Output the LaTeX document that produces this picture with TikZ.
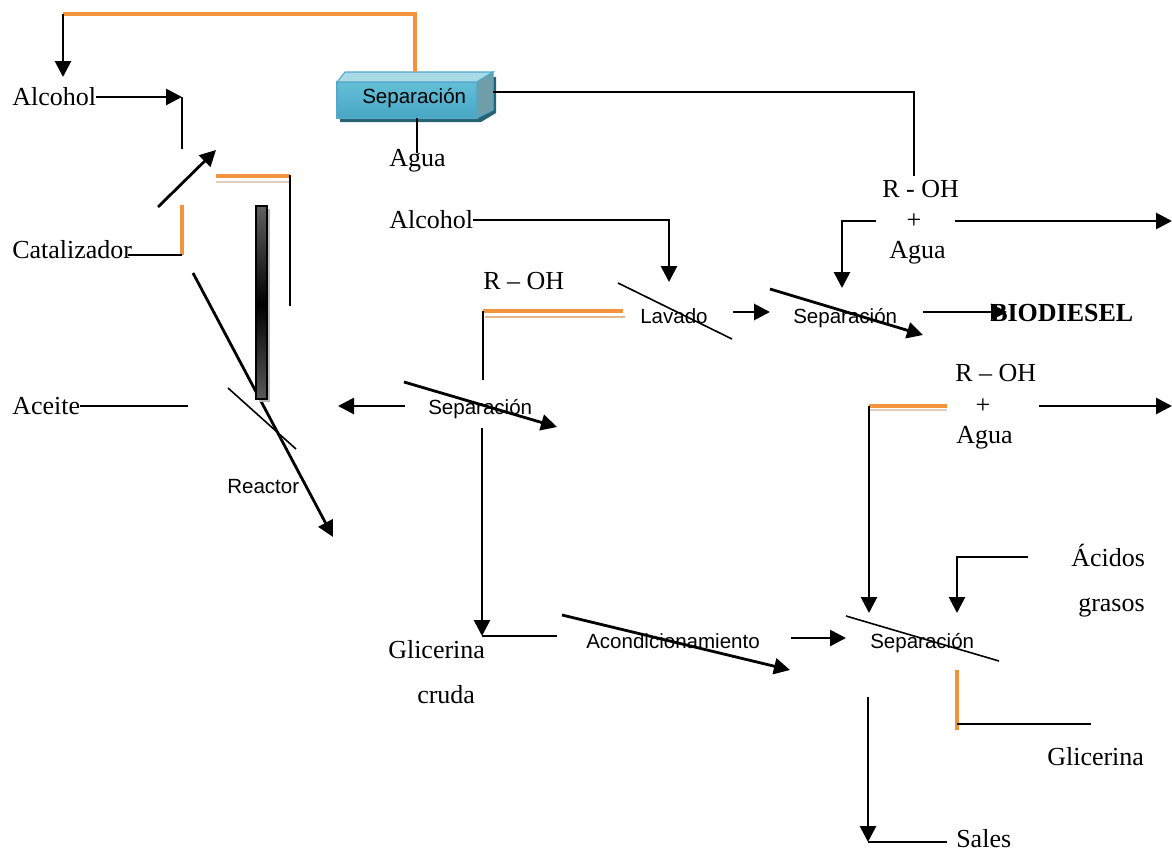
\documentclass[tikz,border=0pt]{standalone}
\usepackage{fontspec}
\setmainfont{Liberation Serif}
\newfontfamily\arialf{Liberation Sans}
\usetikzlibrary{arrows.meta}
\definecolor{orng}{RGB}{242,148,62}
\definecolor{paleln}{RGB}{225,205,185}
\definecolor{boxtop}{RGB}{170,217,230}
\definecolor{boxfa}{RGB}{100,190,215}
\definecolor{boxfb}{RGB}{72,166,196}
\definecolor{boxside}{RGB}{112,158,168}
\definecolor{boxshadow}{RGB}{40,100,115}
\definecolor{boxedge}{RGB}{80,170,200}
\tikzset{
  tm/.style={font=\fontsize{19.5}{22}\selectfont, inner sep=0pt},
  tmb/.style={font=\bfseries\fontsize{19.5}{22}\selectfont, inner sep=0pt},
  ar/.style={font=\arialf\fontsize{15.4}{18}\selectfont, inner sep=0pt},
  flow/.style={line width=2.1pt, -{Triangle[length=12pt,width=12pt]}},
  ln/.style={line width=1.5pt},
  thinln/.style={line width=1.2pt},
  og/.style={line width=2.5pt, draw=orng},
  pale/.style={line width=1pt, draw=paleln},
}
\begin{document}
\begin{tikzpicture}[x=0.75pt,y=-0.75pt]
\useasboundingbox (0,0) rectangle (1172,853);

% ---------- text nodes ----------
\node[tm, anchor=base west] (alc1) at (12,105) {Alcohol};
\node[tm, anchor=base west] (cat) at (12,258) {Catalizador};
\node[tm, anchor=base west] (aceite) at (12,414) {Aceite};
\node[tm, anchor=base west] (agua1) at (389,166) {Agua};
\node[tm, anchor=base west] (alc2) at (389,228) {Alcohol};
\node[tm, anchor=base west] (roh1) at (483,289) {R -- OH};
\node[ar, anchor=base west] (lavado) at (640,323) {Lavado};
\node[ar, anchor=base west] (sep2) at (793,323) {Separación};
\node[tmb, anchor=base west] (bio) at (990,321) {BIODIESEL};
\node[tm, anchor=base west] (roh2) at (882,197) {R - OH};
\node[tm, anchor=base] (plus2) at (914,228) {+};
\node[tm, anchor=base west] (agua2) at (889,258) {Agua};
\node[tm, anchor=base west] (roh3) at (955,381) {R -- OH};
\node[tm, anchor=base] (plus3) at (983,413) {+};
\node[tm, anchor=base west] (agua3) at (956,443) {Agua};
\node[ar, anchor=base west] (sep1) at (428,414) {Separación};
\node[ar, anchor=base west] (reactor) at (227,493) {Reactor};
\node[tm, anchor=base west] (glic1) at (388,658) {Glicerina};
\node[tm, anchor=base west] (cruda) at (417,703) {cruda};
\node[ar, anchor=base west] (acond) at (586,648) {Acondicionamiento};
\node[ar, anchor=base west] (sep3) at (870,648) {Separación};
\node[tm, anchor=base west] (acidos) at (1071,566) {Ácidos};
\node[tm, anchor=base west] (grasos) at (1078,611) {grasos};
\node[tm, anchor=base west] (glic2) at (1047,765) {Glicerina};
\node[tm, anchor=base west] (sales) at (956,847) {Sales};

% ---------- 3D box "Separacion" ----------
\fill[boxshadow] (340,86) -- (349,77) -- (496,77) -- (496,113) -- (481,122) -- (340,122) -- cycle;
\shade[top color=boxfa, bottom color=boxfb, draw=boxedge, line width=0.8pt] (337,82) rectangle (477,118);
\fill[boxtop, draw=boxedge, line width=0.8pt] (337,82) -- (345,72) -- (493,72) -- (477,82) -- cycle;
\fill[boxside, draw=boxedge, line width=0.8pt] (477,82) -- (493,72) -- (493,110) -- (477,118) -- cycle;
\node[ar, anchor=base west] (sep0) at (362,103) {Separación};
\coordinate (boxT) at (415,72);
\coordinate (boxR) at (493,92);
\coordinate (boxB) at (417,118);

% ---------- coordinates ----------
\coordinate (tl) at (63,14);
\coordinate (tr) at (415,14);
\coordinate (mixA) at (182,97);

% top recycle
\draw[og] (boxT) -- (tr) -- (tl);
\draw[flow] (tl) -- (63,77);

% alcohol -> reactor
\draw[flow] (alc1.east |- mixA) -- (mixA);
\draw[ln] (mixA) -- (182,149);
\draw[flow] (158,207) -- (216,150);
\draw[og] (216,176) -- (290,176);
\draw[pale] (216,182) -- (290,182);
\draw[ln] (290,175) -- (290,306);

% catalizador
\coordinate (catC) at (182,255);
\draw[og] (182,205) -- (catC);
\draw[ln] (128,255) -- (catC);

% long line through reactor
\draw[flow] (193,273) -- (333,537);

% reactor bar
\fill[gray!55] (259,209) rectangle (270,402);
\shade[top color=gray!75!black, bottom color=black] (256,206) rectangle (267,304);
\shade[top color=black, bottom color=gray!70!black] (256,304) rectangle (267,399);
\draw[line width=1.3pt] (256,206) rectangle (267,399);
\draw[thinln] (228,388) -- (296,449);

% aceite
\draw[ln] (aceite.east |- 0,406) -- (188,406);
\draw[flow] (405,406) -- (338,406);

% middle separation
\draw[flow] (404,382) -- (557,427);
\coordinate (rohC) at (483,311);
\draw[og] (rohC) -- (623,311);
\draw[pale, draw=brown!60!orng!60] (485,317) -- (625,317);
\draw[ln] (rohC) -- (483,380);
\coordinate (glC) at (482,636);
\draw[flow] (482,428) -- (glC);
\draw[ln] (glC) -- (557,636);

% lavado
\draw[thinln] (618,283) -- (732,339);
\draw[flow] (733,312) -- (770,312);
\draw[flow] (alc2.east |- 0,220) -| (669,282);

% separation 2
\draw[flow] (770,289) -- (923,335);
\draw[flow] (923,312) -- (1007,312);

% box right line to R-OH + Agua
\draw[ln] (boxR) -| (914,176);
\draw[flow] (876,221) -| (842,288);
\draw[flow] (955,221) -- (1172,221);
\draw[ln] (boxB) -- (417,153);

% second R-OH + Agua
\coordinate (r3C) at (869,406);
\draw[og] (r3C) -- (947,406);
\draw[pale] (869,410) -- (947,410);
\draw[flow] (r3C) -- (869,613);
\draw[flow] (1039,406) -- (1172,406);

% acondicionamiento
\draw[flow] (562,615) -- (790,670);
\draw[flow] (791,638) -- (846,638);

% separation 3
\draw[thinln] (846,616) -- (999,661);
\draw[flow] (1028,557) -| (957,613);
\coordinate (g2C) at (957,724);
\draw[og] (957,670) -- (957,730);
\draw[ln] (g2C) -- (1091,724);
\coordinate (saC) at (868,842);
\draw[flow] (868,697) -- (saC);
\draw[ln] (saC) -- (947,842);
\end{tikzpicture}
\end{document}
